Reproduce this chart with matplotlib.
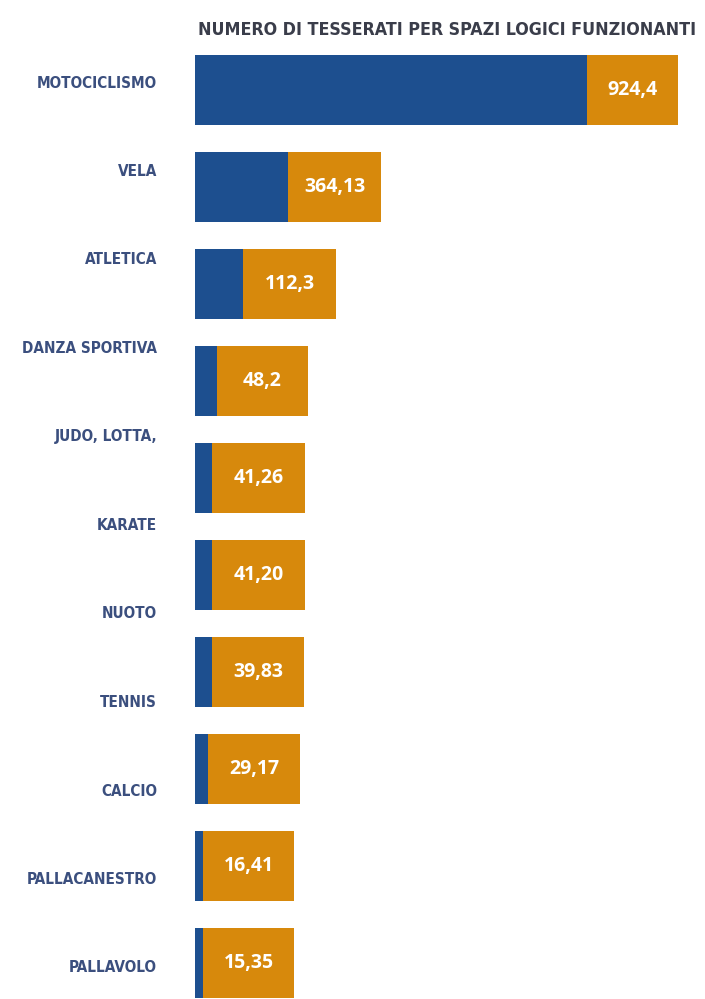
import matplotlib.pyplot as plt

# infographic widths (pixel-like units)
sports = ["MOTOCICLISMO", "VELA", "ATLETICA", "DANZA SPORTIVA", "JUDO, LOTTA, KARATE",
          "NUOTO", "TENNIS", "CALCIO", "PALLACANESTRO", "PALLAVOLO"]
values = ["924,4", "364,13", "112,3", "48,2", "41,26", "41,20", "39,83", "29,17", "16,41", "15,35"]
blue_part = [392, 93, 48, 22, 17, 17, 17, 13, 8, 8]
orange_part = [91, 93, 93, 91, 93, 93, 92, 92, 91, 91]

# the side labels in the original are evenly spaced and do not line up with the bars
side_labels = ["MOTOCICLISMO", "VELA", "ATLETICA", "DANZA SPORTIVA", "JUDO, LOTTA,", "KARATE",
               "NUOTO", "TENNIS", "CALCIO", "PALLACANESTRO", "PALLAVOLO"]

BLUE = "#1d4f8f"
ORANGE = "#d7890c"
LABEL_COL = "#3b4f7e"
TITLE_COL = "#3a3d4a"

W, H = 705, 999
fig = plt.figure(figsize=(W / 100, H / 100), dpi=100)
ax = fig.add_axes([195 / W, 0, 510 / W, 1])

pitch = 97.0
y = list(range(len(sports)))
ax.barh(y, blue_part, height=70 / pitch, color=BLUE, linewidth=0)
ax.barh(y, orange_part, left=blue_part, height=70 / pitch, color=ORANGE, linewidth=0)

for i in y:
    ax.text(blue_part[i] + orange_part[i] / 2, i, values[i], ha="center", va="center",
            color="white", fontsize=14, fontweight="bold", family=["Open Sans", "DejaVu Sans"])

ax.set_xlim(0, 510)
ax.set_ylim((H - 90) / pitch, -90 / pitch)
ax.axis("off")

for k, lab in enumerate(side_labels):
    fig.text(157 / W, 1 - (83 + 88.5 * k) / H, lab, ha="right", va="center",
             color=LABEL_COL, fontsize=11, fontweight="bold", fontstretch="condensed",
             family="DejaVu Sans")

fig.text(447 / W, 1 - 30 / H, "NUMERO DI TESSERATI PER SPAZI LOGICI FUNZIONANTI",
         ha="center", va="center", color=TITLE_COL, fontsize=12.8, fontweight="bold",
         fontstretch="condensed", family="DejaVu Sans")

fig.savefig("out.png", dpi=100, facecolor="white")
